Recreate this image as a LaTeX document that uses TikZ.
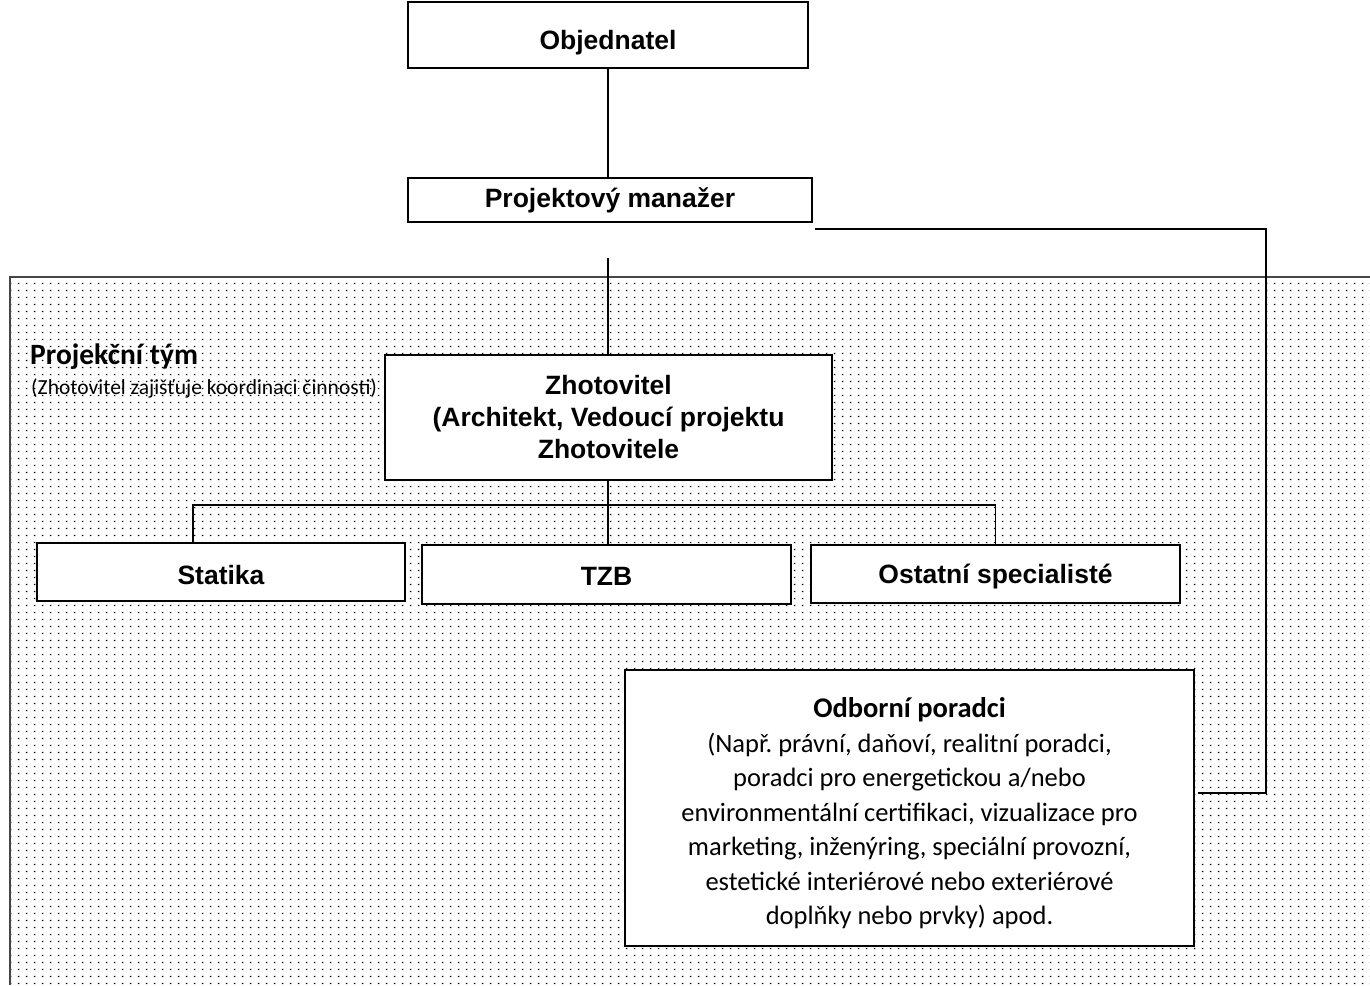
\documentclass[tikz,border=0pt]{standalone}
\usepackage{fontspec}
\usepackage{xcolor}
\usetikzlibrary{positioning, calc, patterns.meta}
\newfontfamily\arialfont{Liberation Sans}
\newfontfamily\calibrifont{Carlito}
\frenchspacing
\definecolor{boxcolor}{RGB}{0,0,0}
\definecolor{dotcolor}{RGB}{0,0,0}
\definecolor{teamedge}{RGB}{70,70,70}
\tikzdeclarepattern{
  name=teamdots,
  type=uncolored,
  bottom left={(0pt,0pt)},
  top right={(8pt,7pt)},
  tile size={(8pt,7pt)},
  code={\fill (2pt,2pt) rectangle (3.7pt,3.7pt);}
}
\tikzstyle{box} = [rectangle, draw=boxcolor, fill=white, line width=1.4pt, align=center, inner sep=0pt, font=\fontsize{26.5}{32}\selectfont\arialfont\bfseries]
\tikzstyle{link} = [draw=boxcolor, line width=1.6pt]
\tikzstyle{team} = [pattern=teamdots, pattern color=dotcolor]

\begin{document}
\begin{tikzpicture}[x=1pt, y=-1pt]
\useasboundingbox (0,0) rectangle (1370,985);

% Project team area
\fill[team] (10,277) rectangle (1370,985);
\draw[teamedge, line width=1.5pt] (1370,277) -- (10,277) -- (10,985);
\node[anchor=base west, inner sep=0pt, font=\fontsize{29.5}{32}\selectfont\calibrifont\bfseries] (teamtitle) at (30,364) {Projekční tým};
\node[anchor=base west, inner sep=0pt, font=\fontsize{21.5}{24}\selectfont\calibrifont] (teamnote) at (31,394) {(Zhotovitel zajišťuje koordinaci činnosti)};

% Boxes
\node[box, minimum width=400, minimum height=66] (obj) at (608,35) {};
\node[inner sep=0pt, font=\fontsize{26.5}{32}\selectfont\arialfont\bfseries] (objtext) at (608,43) {Objednatel};
\node[box, minimum width=404, minimum height=44] (pm) at (610,200) {Projektový manažer};
\node[box, minimum width=447, minimum height=125] (zhot) at (608.5,417.5) {Zhotovitel\\(Architekt, Vedoucí projektu\\Zhotovitele};
\node[box, minimum width=368, minimum height=58] (stat) at (221,572) {\raisebox{-3pt}[\height][\depth]{Statika}};
\node[box, minimum width=369, minimum height=59] (tzb) at (606.5,574.5) {\raisebox{-2pt}[\height][\depth]{TZB}};
\node[box, minimum width=369, minimum height=58] (ost) at (995.5,574) {\raisebox{-3pt}[\height][\depth]{Ostatní specialisté}};
\node[box, minimum width=569, minimum height=276, font=\fontsize{26.5}{34.5}\selectfont\calibrifont] (adv) at (909.5,808) {\rule{0pt}{31pt}{\fontsize{28.5}{34.5}\selectfont\bfseries Odborní poradci}\\(Např. právní, daňoví, realitní poradci,\\poradci pro energetickou a/nebo\\environmentální certifikaci, vizualizace pro\\marketing, inženýring, speciální provozní,\\estetické interiérové nebo exteriérové\\doplňky nebo prvky) apod.};

% Connectors
\coordinate (teamin) at (608,258);
\coordinate (bus) at (608,505);
\coordinate (pmout) at (815,229);
\coordinate (advin) at (1198,793);
\draw[link] (obj.south) -- (obj.south |- pm.north);
\draw[link] (teamin) -- (teamin |- zhot.north);
\draw[link] (bus |- zhot.south) -- (bus |- tzb.north);
\draw[link] ([xshift=-28pt]stat.north) |- (bus -| ost.north) -- (ost.north);
\draw[link] (pmout) -| ([xshift=68pt]advin) -- (advin);

\end{tikzpicture}
\end{document}
